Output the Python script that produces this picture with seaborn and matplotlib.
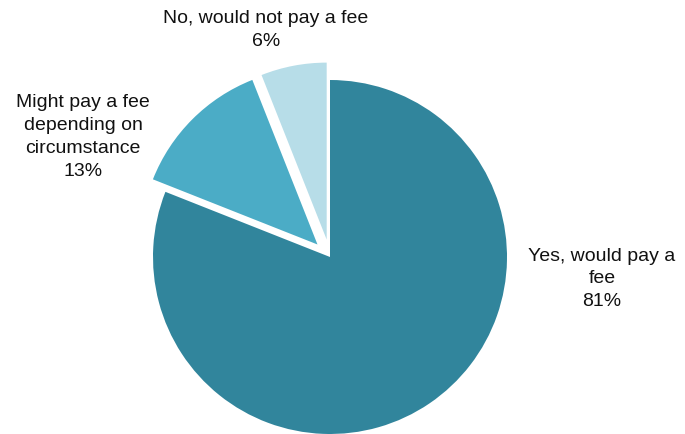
import matplotlib
matplotlib.use("Agg")
import matplotlib.pyplot as plt
import seaborn as sns

# Survey responses: willingness to pay a fee
categories = ["Yes, would pay a fee", "Might pay a fee depending on circumstance", "No, would not pay a fee"]
shares = [81, 13, 6]
label_text = ["Yes, would pay a\nfee", "Might pay a fee\ndepending on\ncircumstance", "No, would not pay a fee"]
colors = ["#31859C", "#4BACC6", "#B7DDE8"]
explode = [0.0, 0.1, 0.1]

sns.set_theme(style="white")
plt.rcParams["font.family"] = ["Liberation Sans", "DejaVu Sans"]

W, H, DPI = 685, 435, 100
fig = plt.figure(figsize=(W / DPI, H / DPI), dpi=DPI)
ax = fig.add_axes([0, 0, 1, 1])

# pie centre and radius in pixels
cx, cy, r = 330, 258, 177

ax.pie(shares, colors=colors, explode=explode, startangle=90,
       counterclock=False, radius=1.0, center=(0, 0),
       wedgeprops=dict(linewidth=0), frame=False)
ax.set_xlim(-cx / r, (W - cx) / r)
ax.set_ylim(-(H - cy) / r, cy / r)
ax.set_aspect("auto")
ax.set_axis_off()

def px(x, y):
    return (x - cx) / r, (cy - y) / r

label_pos = [px(602, 279), px(83, 137), px(266, 30)]
for txt, val, (x, y) in zip(label_text, shares, label_pos):
    ax.text(x, y, f"{txt}\n{val}%", ha="center", va="center",
            fontsize=14, color="#111111", linespacing=1.45)

fig.savefig("out.png", dpi=DPI, facecolor="white")
